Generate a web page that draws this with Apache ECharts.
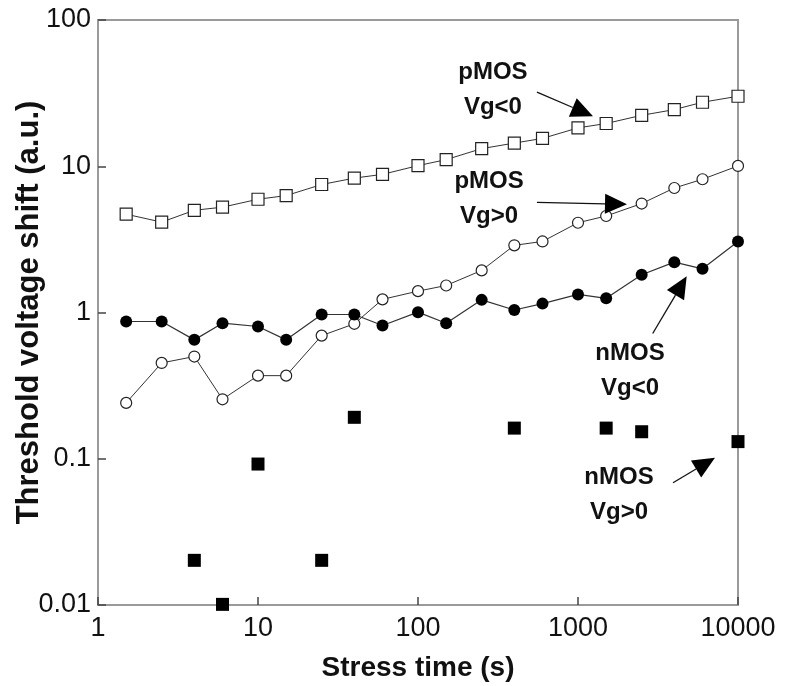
<!DOCTYPE html>
<html>
<head>
<meta charset="utf-8">
<script src="https://cdn.jsdelivr.net/npm/echarts@6/dist/echarts.min.js"></script>
<style>
html,body{margin:0;padding:0;background:#fff;}
#chart{width:787px;height:686px;}
</style>
</head>
<body>
<div id="chart"></div>
<script>
// Stress time (s)
const stressTimes = [1.5, 2.5, 4, 6, 10, 15, 25, 40, 60, 100, 150, 250, 400, 600, 1000, 1500, 2500, 4000, 6000, 10000];
// pMOS Vg<0 (open squares)
const pmosVgNeg = [4.7, 4.15, 5.0, 5.25, 5.95, 6.3, 7.5, 8.3, 8.8, 10.1, 11.1, 13.2, 14.4, 15.5, 18.3, 19.6, 22.3, 24.4, 27.4, 30.1];
// pMOS Vg>0 (open circles)
const pmosVgPos = [0.241, 0.452, 0.50, 0.255, 0.37, 0.37, 0.695, 0.837, 1.23, 1.40, 1.53, 1.94, 2.88, 3.06, 4.11, 4.57, 5.56, 7.10, 8.15, 10.05];
// nMOS Vg<0 (filled circles)
const nmosVgNeg = [0.868, 0.868, 0.650, 0.845, 0.802, 0.650, 0.969, 0.969, 0.815, 1.005, 0.845, 1.22, 1.04, 1.15, 1.33, 1.25, 1.81, 2.21, 1.99, 3.06];
// nMOS Vg>0 (filled squares, scattered)
const nmosVgPosTimes = [4, 6, 10, 25, 40, 400, 1500, 2500, 10000];
const nmosVgPos = [0.0202, 0.0101, 0.092, 0.0202, 0.192, 0.162, 0.162, 0.153, 0.131];

// Annotation labels (data-space centres)
const annotationLabels = [
  {text: 'pMOS\nVg<0', x: 294, y: 33.4},
  {text: 'pMOS\nVg>0', x: 278, y: 5.98},
  {text: 'nMOS\nVg<0', x: 2113, y: 0.397},
  {text: 'nMOS\nVg>0', x: 1804, y: 0.0562}
];
// Arrows (data-space start and tip)
const annotationArrows = [
  {from: [554, 32.1], to: [1241, 22.0]},
  {from: [554, 5.66], to: [2024, 5.50]},
  {from: [2930, 0.718], to: [4780, 1.77]},
  {from: [3926, 0.0686], to: [7180, 0.1016]}
];

const pair = (xs, ys) => xs.map((x, i) => [x, ys[i]]);
const textColor = '#111';
const fontFam = '"Liberation Sans", Arial, sans-serif';

const chart = echarts.init(document.getElementById('chart'));
const option = {
  animation: false,
  backgroundColor: '#fff',
  grid: {left: 98, top: 20, right: 49, bottom: 81, show: true, borderColor: '#9a9a9a', borderWidth: 2,
    containLabel: false, outerBoundsMode: 'none'},
  xAxis: {
    type: 'log', logBase: 10, min: 1, max: 10000,
    name: 'Stress time (s)', nameLocation: 'middle', nameGap: 49, nameMoveOverlap: false,
    nameTextStyle: {fontSize: 28, fontWeight: 'bold', color: textColor, fontFamily: fontFam},
    axisLine: {show: true, lineStyle: {color: '#9a9a9a', width: 2}},
    axisTick: {show: true, inside: true, length: 8, lineStyle: {color: '#444', width: 1.5}},
    minorTick: {show: false},
    splitLine: {show: false},
    axisLabel: {fontSize: 27, color: textColor, fontFamily: fontFam, margin: 10,
      formatter: v => String(v)}
  },
  yAxis: {
    type: 'log', logBase: 10, min: 0.01, max: 100,
    name: 'Threshold voltage shift (a.u.)', nameLocation: 'middle', nameGap: 53, nameMoveOverlap: false,
    nameTextStyle: {fontSize: 31, fontWeight: 'bold', color: textColor, fontFamily: fontFam},
    axisLine: {show: true, lineStyle: {color: '#9a9a9a', width: 2}},
    axisTick: {show: true, inside: true, length: 8, lineStyle: {color: '#444', width: 1.5}},
    splitLine: {show: false},
    axisLabel: {fontSize: 27, color: textColor, fontFamily: fontFam, margin: 7,
      formatter: v => {
        const m = {0.01: '0.01', 0.1: '0.1', 1: '1', 10: '10', 100: '100'};
        return m[v] !== undefined ? m[v] : String(+v.toPrecision(3));
      }}
  },
  series: [
    {
      name: 'pMOS Vg<0', type: 'line', data: pair(stressTimes, pmosVgNeg),
      symbol: 'rect', symbolSize: 12,
      lineStyle: {color: '#333', width: 1},
      itemStyle: {color: '#fff', borderColor: '#222', borderWidth: 1.2},
      z: 3
    },
    {
      name: 'pMOS Vg>0', type: 'line', data: pair(stressTimes, pmosVgPos),
      symbol: 'circle', symbolSize: 11,
      lineStyle: {color: '#333', width: 1},
      itemStyle: {color: '#fff', borderColor: '#222', borderWidth: 1.2},
      z: 3
    },
    {
      name: 'nMOS Vg<0', type: 'line', data: pair(stressTimes, nmosVgNeg),
      symbol: 'circle', symbolSize: 12,
      lineStyle: {color: '#333', width: 1.2},
      itemStyle: {color: '#000', borderColor: '#000', borderWidth: 0},
      z: 3
    },
    {
      name: 'nMOS Vg>0', type: 'scatter', data: pair(nmosVgPosTimes, nmosVgPos),
      symbol: 'rect', symbolSize: 13, clip: false,
      itemStyle: {color: '#000', opacity: 1},
      z: 4
    }
  ]
};
chart.setOption(option);

function buildAnnotations() {
  const els = [];
  annotationLabels.forEach(a => {
    const p = chart.convertToPixel({gridIndex: 0}, [a.x, a.y]);
    els.push({
      type: 'text', x: p[0], y: p[1], z: 10,
      style: {text: a.text, fill: textColor, font: 'bold 24px ' + fontFam,
        align: 'center', verticalAlign: 'middle', lineHeight: 35}
    });
  });
  annotationArrows.forEach(a => {
    const s = chart.convertToPixel({gridIndex: 0}, a.from);
    const t = chart.convertToPixel({gridIndex: 0}, a.to);
    const dx = t[0] - s[0], dy = t[1] - s[1];
    const len = Math.sqrt(dx * dx + dy * dy);
    const ux = dx / len, uy = dy / len;
    const headLen = 22, headW = 10;
    const bx = t[0] - ux * headLen, by = t[1] - uy * headLen;
    els.push({
      type: 'line', z: 10,
      shape: {x1: s[0], y1: s[1], x2: bx, y2: by},
      style: {stroke: '#111', lineWidth: 1.3}
    });
    els.push({
      type: 'polygon', z: 10,
      shape: {points: [[t[0], t[1]], [bx - uy * headW, by + ux * headW], [bx + uy * headW, by - ux * headW]]},
      style: {fill: '#000'}
    });
  });
  chart.setOption({graphic: els});
}
buildAnnotations();
</script>
</body>
</html>
